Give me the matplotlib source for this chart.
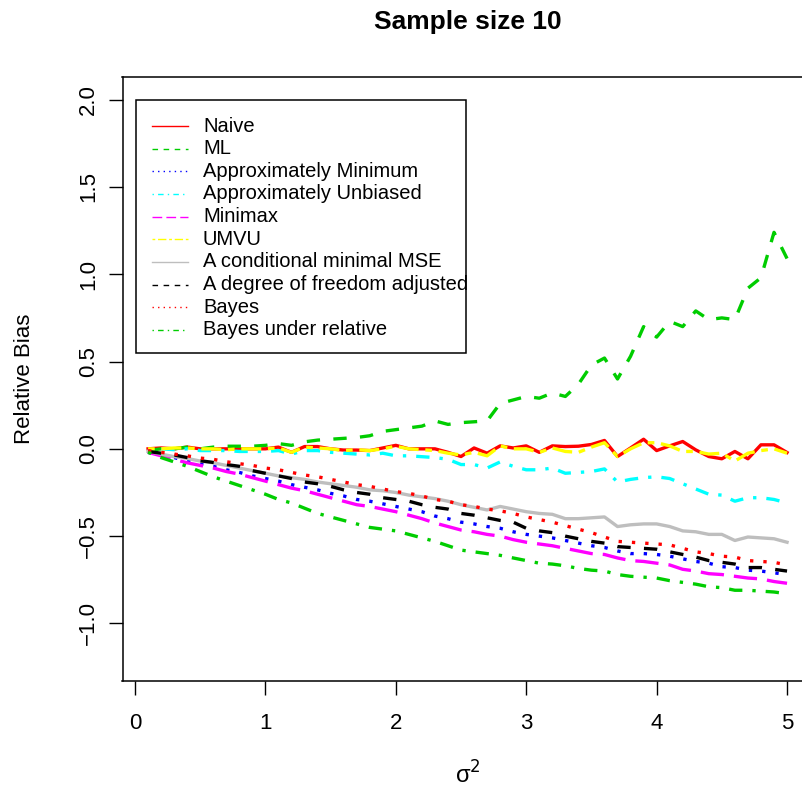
import matplotlib
matplotlib.use("Agg")
import matplotlib.pyplot as plt
from matplotlib.lines import Line2D
from matplotlib.patches import Rectangle

plt.rcParams["font.family"] = ["Liberation Sans", "DejaVu Sans"]
plt.rcParams["mathtext.fontset"] = "dejavusans"

# ---- data ----
sigma2 = [0.1, 0.2, 0.3, 0.4, 0.5, 0.6, 0.7, 0.8, 0.9, 1.0,
          1.1, 1.2, 1.3, 1.4, 1.5, 1.6, 1.7, 1.8, 1.9, 2.0,
          2.1, 2.2, 2.3, 2.4, 2.5, 2.6, 2.7, 2.8, 2.9, 3.0,
          3.1, 3.2, 3.3, 3.4, 3.5, 3.6, 3.7, 3.8, 3.9, 4.0,
          4.1, 4.2, 4.3, 4.4, 4.5, 4.6, 4.7, 4.8, 4.9, 5.0]

naive = [0.0, 0.005, 0.0, 0.01, 0.0, 0.0, 0.0, 0.0, 0.0, 0.0,
         0.01, -0.02, 0.013, 0.013, 0.0, -0.007, -0.007, -0.01, 0.005, 0.02,
         0.0, 0.0, 0.0, -0.02, -0.044, 0.005, -0.025, 0.017, 0.005, 0.017,
         -0.02, 0.017, 0.013, 0.015, 0.025, 0.048, -0.044, 0.005, 0.055, -0.01,
         0.017, 0.042, -0.006, -0.044, -0.057, -0.015, -0.057, 0.023, 0.023, -0.021]

ml = [-0.01, 0.0, 0.0, 0.01, 0.0, 0.01, 0.015, 0.015, 0.015, 0.02,
      0.03, 0.02, 0.04, 0.05, 0.055, 0.06, 0.065, 0.075, 0.1, 0.11,
      0.12, 0.13, 0.16, 0.14, 0.15, 0.155, 0.16, 0.26, 0.28, 0.30,
      0.29, 0.32, 0.30, 0.37, 0.48, 0.52, 0.40, 0.53, 0.70, 0.64,
      0.73, 0.70, 0.79, 0.74, 0.75, 0.74, 0.92, 0.98, 1.24, 1.09]

approx_min = [-0.02, -0.035, -0.05, -0.07, -0.085, -0.1, -0.12, -0.135, -0.155, -0.17,
              -0.185, -0.205, -0.22, -0.235, -0.255, -0.27, -0.29, -0.3, -0.315, -0.33,
              -0.345, -0.36, -0.385, -0.4, -0.42, -0.43, -0.445, -0.455, -0.475, -0.49,
              -0.5, -0.51, -0.525, -0.54, -0.555, -0.565, -0.585, -0.6, -0.6, -0.605,
              -0.615, -0.63, -0.645, -0.655, -0.675, -0.68, -0.695, -0.70, -0.71, -0.72]

approx_unb = [-0.01, 0.0, -0.005, 0.0, -0.01, -0.01, -0.01, -0.015, -0.015, -0.015,
              -0.01, -0.03, -0.01, -0.01, -0.02, -0.025, -0.03, -0.035, -0.025, -0.04,
              -0.04, -0.045, -0.05, -0.06, -0.09, -0.09, -0.11, -0.075, -0.1, -0.12,
              -0.12, -0.11, -0.14, -0.135, -0.13, -0.115, -0.19, -0.175, -0.165, -0.16,
              -0.17, -0.2, -0.23, -0.26, -0.265, -0.3, -0.28, -0.28, -0.29, -0.31]

minimax = [-0.02, -0.04, -0.06, -0.08, -0.095, -0.11, -0.13, -0.145, -0.165, -0.185,
           -0.205, -0.225, -0.24, -0.26, -0.28, -0.3, -0.32, -0.33, -0.345, -0.36,
           -0.38, -0.4, -0.425, -0.445, -0.465, -0.475, -0.49, -0.5, -0.52, -0.535,
           -0.545, -0.555, -0.57, -0.585, -0.6, -0.605, -0.625, -0.64, -0.645, -0.655,
           -0.665, -0.69, -0.70, -0.715, -0.72, -0.73, -0.74, -0.745, -0.76, -0.77]

umvu = [0.0, 0.0, 0.005, 0.005, 0.0, 0.0, -0.005, 0.0, 0.0, 0.0,
        0.005, -0.02, 0.01, 0.005, 0.0, -0.01, -0.005, -0.01, 0.0, 0.015,
        0.0, -0.005, -0.01, -0.025, -0.035, -0.02, -0.04, 0.017, 0.0, 0.0,
        -0.02, 0.005, -0.015, -0.02, 0.01, 0.035, -0.044, 0.0, 0.035, 0.035,
        0.017, -0.015, -0.015, -0.03, -0.025, -0.07, -0.025, -0.01, 0.0, -0.025]

cond_mse = [-0.015, -0.03, -0.045, -0.055, -0.07, -0.08, -0.095, -0.11, -0.125, -0.14,
            -0.155, -0.165, -0.175, -0.19, -0.2, -0.21, -0.22, -0.235, -0.24, -0.25,
            -0.265, -0.275, -0.285, -0.3, -0.32, -0.335, -0.35, -0.33, -0.345, -0.36,
            -0.37, -0.375, -0.4, -0.4, -0.395, -0.39, -0.445, -0.435, -0.43, -0.43,
            -0.445, -0.47, -0.475, -0.49, -0.49, -0.525, -0.505, -0.51, -0.515, -0.535]

df_adj = [-0.015, -0.025, -0.035, -0.05, -0.068, -0.078, -0.09, -0.1, -0.125, -0.14,
          -0.155, -0.17, -0.19, -0.2, -0.215, -0.235, -0.25, -0.26, -0.28, -0.29,
          -0.3, -0.32, -0.335, -0.345, -0.37, -0.38, -0.395, -0.41, -0.42, -0.455,
          -0.47, -0.48, -0.5, -0.515, -0.53, -0.54, -0.56, -0.565, -0.57, -0.575,
          -0.59, -0.605, -0.62, -0.64, -0.65, -0.66, -0.68, -0.68, -0.69, -0.70]

bayes = [-0.01, -0.02, -0.03, -0.04, -0.053, -0.06, -0.074, -0.085, -0.095, -0.11,
         -0.12, -0.135, -0.15, -0.16, -0.175, -0.19, -0.205, -0.215, -0.23, -0.245,
         -0.255, -0.27, -0.29, -0.3, -0.32, -0.33, -0.345, -0.355, -0.37, -0.39,
         -0.405, -0.42, -0.44, -0.46, -0.48, -0.505, -0.53, -0.535, -0.54, -0.545,
         -0.55, -0.57, -0.59, -0.6, -0.615, -0.62, -0.64, -0.645, -0.65, -0.665]

bayes_rel = [-0.02, -0.05, -0.075, -0.1, -0.13, -0.16, -0.185, -0.21, -0.235, -0.26,
             -0.29, -0.31, -0.34, -0.37, -0.39, -0.41, -0.43, -0.45, -0.46, -0.47,
             -0.49, -0.51, -0.53, -0.555, -0.58, -0.59, -0.6, -0.61, -0.625, -0.64,
             -0.655, -0.66, -0.67, -0.685, -0.695, -0.70, -0.72, -0.73, -0.735, -0.74,
             -0.755, -0.765, -0.775, -0.79, -0.795, -0.81, -0.81, -0.815, -0.82, -0.83]

labels = ["Naive", "ML", "Approximately Minimum", "Approximately Unbiased",
          "Minimax", "UMVU", "A conditional minimal MSE",
          "A degree of freedom adjusted", "Bayes", "Bayes under relative"]
series = [naive, ml, approx_min, approx_unb, minimax, umvu, cond_mse,
          df_adj, bayes, bayes_rel]

# R palette / lty 1..6 equivalents
colors = ["#FF0000", "#00CD00", "#0000FF", "#00FFFF", "#FF00FF",
          "#FFFF00", "#BEBEBE", "#000000", "#FF0000", "#00CD00"]
SOLID = "-"
DASHED = (0, (4, 4))
DOTTED = (0, (1, 3))
DOTDASH = (0, (1, 3, 4, 3))
LONGDASH = (0, (7, 3))
TWODASH = (0, (2, 2, 6, 2))
styles = [SOLID, DASHED, DOTTED, DOTDASH, LONGDASH, TWODASH,
          SOLID, DASHED, DOTTED, DOTDASH]

W, H = 802, 794
fig = plt.figure(figsize=(W / 100, H / 100), dpi=100)
# plot box: left edge 122.5 px, right edge runs past the image (cropped)
ax = fig.add_axes([122.5 / W, 1 - 680.7 / H, (812.6 - 122.5) / W, (680.7 - 77.3) / H])

for ys, c, ls in zip(series, colors, styles):
    ax.plot(sigma2, ys, color=c, linestyle=ls, linewidth=2.4)

ax.set_xlim(-0.096, 5.196)
ax.set_ylim(-1.328, 2.128)
ax.set_xticks([0, 1, 2, 3, 4, 5])
ax.set_yticks([-1.0, -0.5, 0.0, 0.5, 1.0, 1.5, 2.0])
ax.set_yticklabels(["\u22121.0", "\u22120.5", "0.0", "0.5", "1.0", "1.5", "2.0"],
                   rotation=90, va="center")
ax.tick_params(length=10, width=1, labelsize=16)
ax.tick_params(axis="x", pad=13)
ax.tick_params(axis="y", pad=7)
for sp in ax.spines.values():
    sp.set_linewidth(1.1)


# legend drawn by hand in pixel coordinates (R-style box)
def px(x, y):
    return x / W, 1 - y / H


fig.patches.append(Rectangle(px(136, 353), (466 - 136) / W, (353 - 100) / H,
                             transform=fig.transFigure, fill=False,
                             edgecolor="black", linewidth=1.1))
for i, (lab, c, ls) in enumerate(zip(labels, colors, styles)):
    yrow = 126 + 22.65 * i
    x0, y0 = px(152, yrow)
    x1, _ = px(188, yrow)
    fig.add_artist(Line2D([x0, x1], [y0, y0], transform=fig.transFigure,
                          color=c, linestyle=ls, linewidth=1.0))
    fig.text(*px(203, yrow), lab, ha="left", va="center", fontsize=14.5)

fig.text(467.5 / W, 1 - 22 / H, "Sample size 10", ha="center", va="center",
         fontsize=19, fontweight="bold")
fig.text(467.5 / W, 1 - 775 / H, "\u03c3$^{2}$", ha="center", va="center", fontsize=17)
fig.text(25 / W, 1 - 379 / H, "Relative Bias", ha="center", va="center",
         rotation=90, fontsize=16)

fig.savefig("out.png", dpi=100)
